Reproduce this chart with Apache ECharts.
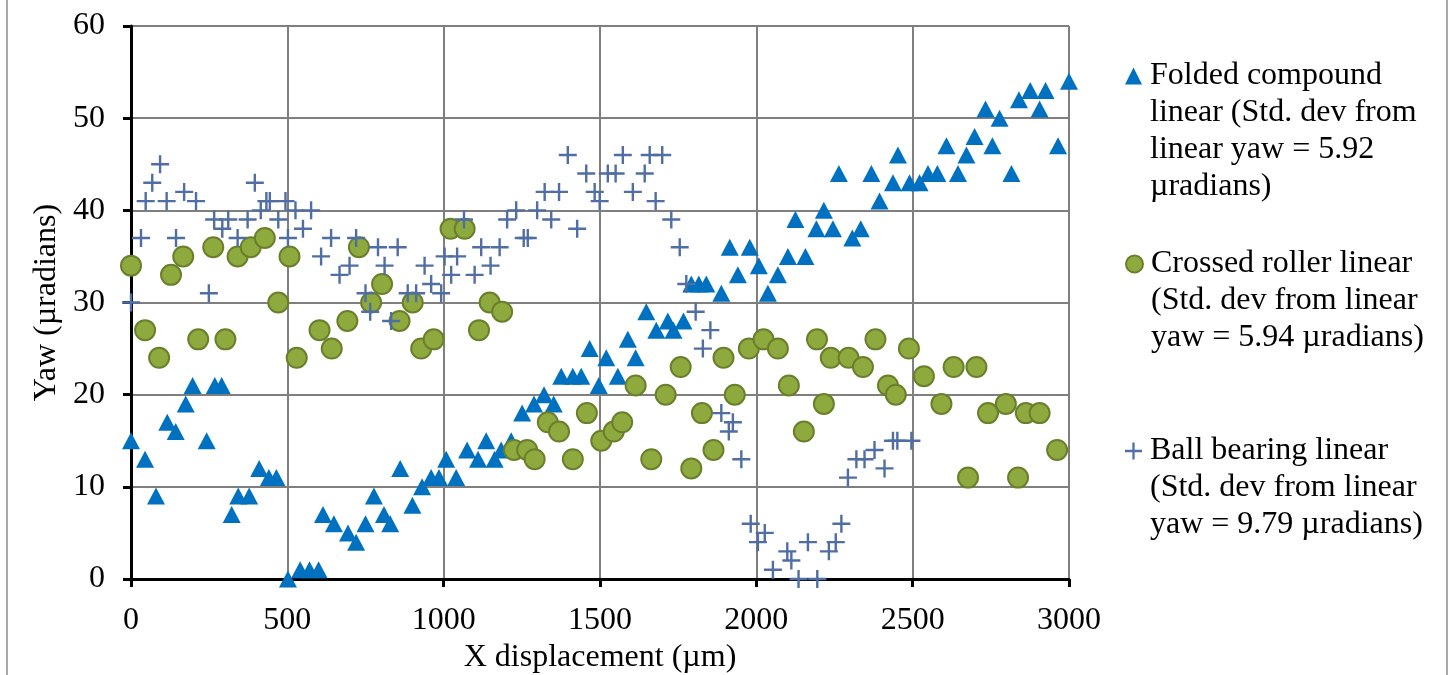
<!DOCTYPE html>
<html>
<head>
<meta charset="utf-8">
<title>Yaw vs X displacement</title>
<script src="https://cdn.jsdelivr.net/npm/echarts@6/dist/echarts.min.js"></script>
<style>
  html, body { margin: 0; padding: 0; background: #fff; }
  #chart { width: 1454px; height: 675px; }
</style>
</head>
<body>
<div id="chart"></div>
<script>
// 数据: [x displacement (µm), yaw (µradians)]
const foldedCompound = [
  [0,15],[45,13],[80,9],[116,17],[143,16],[175,19],[197,21],[242,15],[268,21],[290,21],
  [322,7],[343,9],[378,9],[410,12],[441,11],[465,11],[502,0],[541,1],[571,1],[600,1],
  [614,7],[649,6],[694,5],[720,4],[750,6],[777,9],[809,7],[829,6],[861,12],[900,8],
  [931,10],[960,11],[985,11],[1008,13],[1040,11],[1075,14],[1110,13],[1136,15],[1163,13],[1184,14],
  [1216,15],[1251,18],[1289,19],[1321,20],[1352,19],[1376,22],[1413,22],[1440,22],[1467,25],[1496,21],
  [1520,24],[1557,22],[1589,26],[1614,24],[1648,29],[1680,27],[1717,28],[1735,27],[1767,28],[1792,32],
  [1816,32],[1840,32],[1888,31],[1915,36],[1941,33],[1979,36],[2008,34],[2037,31],[2069,33],[2101,35],
  [2125,39],[2157,35],[2192,38],[2216,40],[2245,38],[2264,44],[2307,37],[2334,38],[2368,44],[2394,41],
  [2437,43],[2453,46],[2490,43],[2522,43],[2549,44],[2579,44],[2608,47],[2645,44],[2672,46],[2698,48],
  [2733,51],[2755,47],[2778,50],[2816,44],[2840,52],[2876,53],[2906,51],[2925,53],[2965,47],[3000,54]
];

const crossedRoller = [
  [0,34],[45,27],[90,24],[128,33],[167,35],[215,26],[263,36],[302,26],[341,35],[383,36],
  [428,37],[471,30],[507,35],[530,24],[603,27],[642,25],[692,28],[729,36],[768,30],[803,32],
  [859,28],[901,30],[928,25],[968,26],[1022,38],[1067,38],[1113,27],[1147,30],[1187,29],[1225,14],
  [1267,14],[1291,13],[1333,17],[1369,16],[1413,13],[1458,18],[1504,15],[1544,16],[1571,17],[1614,21],
  [1664,13],[1710,20],[1758,23],[1792,12],[1826,18],[1863,14],[1895,24],[1931,20],[1976,25],[2023,26],
  [2069,25],[2104,21],[2152,16],[2194,26],[2216,19],[2238,24],[2295,24],[2341,23],[2381,26],[2421,21],
  [2446,20],[2488,25],[2536,22],[2592,19],[2631,23],[2677,11],[2704,23],[2741,18],[2798,19],[2837,11],
  [2862,18],[2906,18],[2962,14]
];

const ballBearing = [
  [0,30],[32,37],[47,41],[68,43],[93,45],[114,41],[144,37],[170,42],[208,41],[249,31],
  [266,39],[292,38],[311,39],[341,37],[373,39],[396,43],[415,40],[433,41],[444,41],[471,39],
  [494,41],[502,37],[526,40],[550,38],[576,40],[608,35],[640,37],[667,33],[699,34],[720,37],
  [750,31],[765,29],[790,36],[811,34],[832,28],[853,36],[885,31],[912,31],[939,34],[960,32],
  [992,31],[1003,35],[1024,33],[1043,35],[1065,39],[1099,33],[1120,36],[1150,34],[1179,36],[1203,39],
  [1232,40],[1256,37],[1269,37],[1299,40],[1323,42],[1344,39],[1369,42],[1397,46],[1427,38],[1456,44],
  [1483,42],[1499,41],[1525,44],[1550,44],[1573,46],[1605,42],[1643,44],[1659,46],[1678,41],[1699,46],
  [1728,39],[1755,36],[1776,32],[1806,29],[1829,25],[1853,27],[1888,18],[1912,16],[1925,17],[1952,13],
  [1982,6],[2005,4],[2027,5],[2053,1],[2099,3],[2112,2],[2135,0],[2165,4],[2195,0],[2232,3],
  [2254,4],[2272,6],[2293,11],[2320,13],[2346,13],[2378,14],[2410,12],[2437,15],[2451,15],[2496,15]
];

const seriesNames = ["Folded compound linear", "Crossed roller linear", "Ball bearing linear"];
const legendLabels = [
  "Folded compound\nlinear (Std. dev from\nlinear yaw = 5.92\nµradians)",
  "Crossed roller linear\n(Std. dev from linear\nyaw = 5.94 µradians)",
  "Ball bearing linear\n(Std. dev from linear\nyaw = 9.79 µradians)"
];
const xTicks = [0, 500, 1000, 1500, 2000, 2500, 3000];
const yTicks = [0, 10, 20, 30, 40, 50, 60];

const FONT = "Liberation Serif";
const FS = 32;
const LH = 37;
const crossPath = "path://M7.8,0H10.2V7.8H18V10.2H10.2V18H7.8V10.2H0V7.8H7.8Z";

// 图例: 每个系列单独一个, 前面补空行让图标对齐第一行
const legendIconY = [76, 264, 451];
const legends = seriesNames.map((name, i) => {
  const n = legendLabels[i].split("\n").length;
  return {
    data: [name],
    left: 1125,
    top: legendIconY[i] - (2 * n - 1) * LH / 2,
    orient: "vertical",
    padding: 0,
    itemWidth: 17,
    itemHeight: 17,
    itemGap: 0,
    selectedMode: false,
    formatter: () => "\n".repeat(n - 1) + legendLabels[i],
    textStyle: {
      fontFamily: FONT,
      fontSize: FS,
      lineHeight: LH,
      color: "#000",
      padding: [0, 0, 0, 3]
    }
  };
});

const chart = echarts.init(document.getElementById("chart"));

const option = {
  animation: false,
  backgroundColor: "#fff",
  textStyle: { fontFamily: FONT },
  legend: legends,
  graphic: [{
    type: "rect",
    shape: { x: 7, y: -5, width: 1440, height: 690 },
    style: { fill: "none", stroke: "#8c8c8c", lineWidth: 1.5 },
    silent: true
  }],
  // 固定绘图区, 不让标签挤压
  grid: { left: 131, right: 385, top: 26, bottom: 96, containLabel: false, outerBoundsMode: "none" },
  xAxis: {
    type: "value",
    min: xTicks[0],
    max: xTicks[xTicks.length - 1],
    interval: 500,
    name: "X displacement (µm)",
    nameLocation: "middle",
    nameGap: 62,
    nameTextStyle: { fontFamily: FONT, fontSize: FS, color: "#000" },
    axisLine: { show: true, lineStyle: { color: "#000", width: 3 } },
    axisTick: { show: true, inside: false, length: 8, lineStyle: { color: "#000", width: 3 } },
    axisLabel: {
      fontFamily: FONT, fontSize: FS, color: "#000", margin: 26, showMaxLabel: true,
      formatter: v => String(v)
    },
    splitLine: { show: true, lineStyle: { color: "#7f7f7f", width: 2 } }
  },
  yAxis: {
    type: "value",
    min: yTicks[0],
    max: yTicks[yTicks.length - 1],
    interval: 10,
    name: "Yaw (µradians)",
    nameLocation: "middle",
    nameGap: 68,
    nameTextStyle: { fontFamily: FONT, fontSize: FS, color: "#000" },
    axisLine: { show: true, lineStyle: { color: "#000", width: 3 } },
    axisTick: { show: true, inside: false, length: 8, lineStyle: { color: "#000", width: 3 } },
    axisLabel: {
      fontFamily: FONT, fontSize: FS, color: "#000", margin: 26, showMaxLabel: true,
      formatter: v => String(v)
    },
    splitLine: { show: true, lineStyle: { color: "#7f7f7f", width: 2 } }
  },
  series: [
    {
      name: seriesNames[0],
      type: "scatter",
      symbol: "triangle",
      symbolSize: [18, 17],
      itemStyle: { color: "#0070c0", opacity: 1 },
      data: foldedCompound
    },
    {
      name: seriesNames[1],
      type: "scatter",
      symbol: "circle",
      symbolSize: 20,
      itemStyle: { color: "#8eaa3e", borderColor: "#6a7f2c", borderWidth: 2, opacity: 1 },
      data: crossedRoller
    },
    {
      name: seriesNames[2],
      type: "scatter",
      symbol: crossPath,
      symbolSize: 18,
      itemStyle: { color: "#506ea3", opacity: 1 },
      data: ballBearing
    }
  ]
};

chart.setOption(option);
</script>
</body>
</html>
